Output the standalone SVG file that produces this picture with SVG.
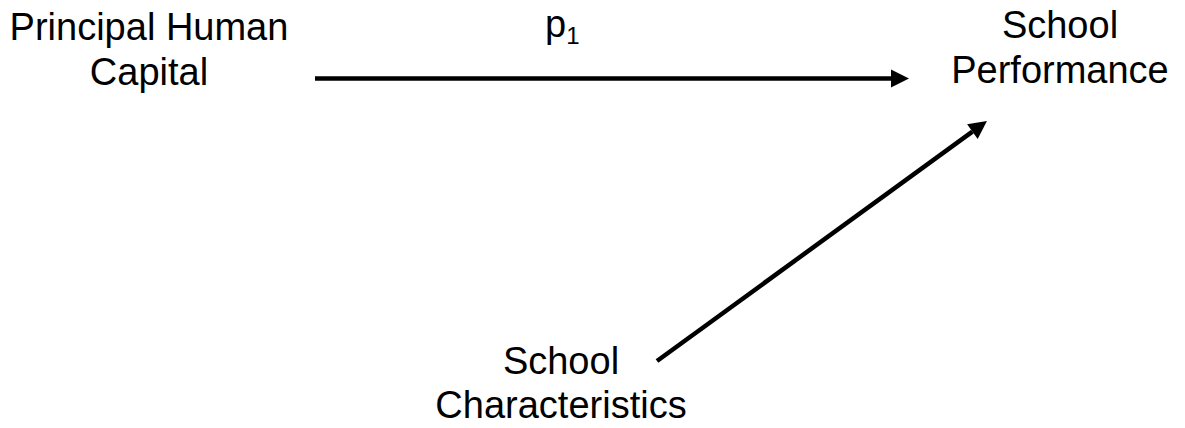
<svg xmlns="http://www.w3.org/2000/svg" width="1185" height="428" viewBox="0 0 1185 428">
<defs>
<style>
.t{font-family:"Liberation Sans",Arial,sans-serif;font-size:38px;fill:#000;text-anchor:middle}
.c{stroke:#000;stroke-width:4.5;fill:none}
</style>
<marker id="ah" markerUnits="userSpaceOnUse" markerWidth="20" markerHeight="18" refX="0" refY="9" orient="auto" overflow="visible">
<path d="M0,0 L18,9 L0,18 Z" fill="#000"/>
</marker>
</defs>
<rect width="1185" height="428" fill="#fff"/>
<g id="phc">
<text class="t" x="149" y="40">Principal Human</text>
<text class="t" x="149" y="85">Capital</text>
</g>
<g id="sp">
<text class="t" x="1060" y="38">School</text>
<text class="t" x="1060" y="83">Performance</text>
</g>
<g id="sc">
<text class="t" x="561" y="374">School</text>
<text class="t" x="561" y="418">Characteristics</text>
</g>
<g id="connectors">
<line class="c" x1="315" y1="78.5" x2="891" y2="78.5" marker-end="url(#ah)"/>
<line class="c" x1="657" y1="361" x2="972.4" y2="131.6" marker-end="url(#ah)"/>
<text class="t" x="545" y="37" style="text-anchor:start">p<tspan font-size="24" dy="7">1</tspan></text>
</g>
</svg>
